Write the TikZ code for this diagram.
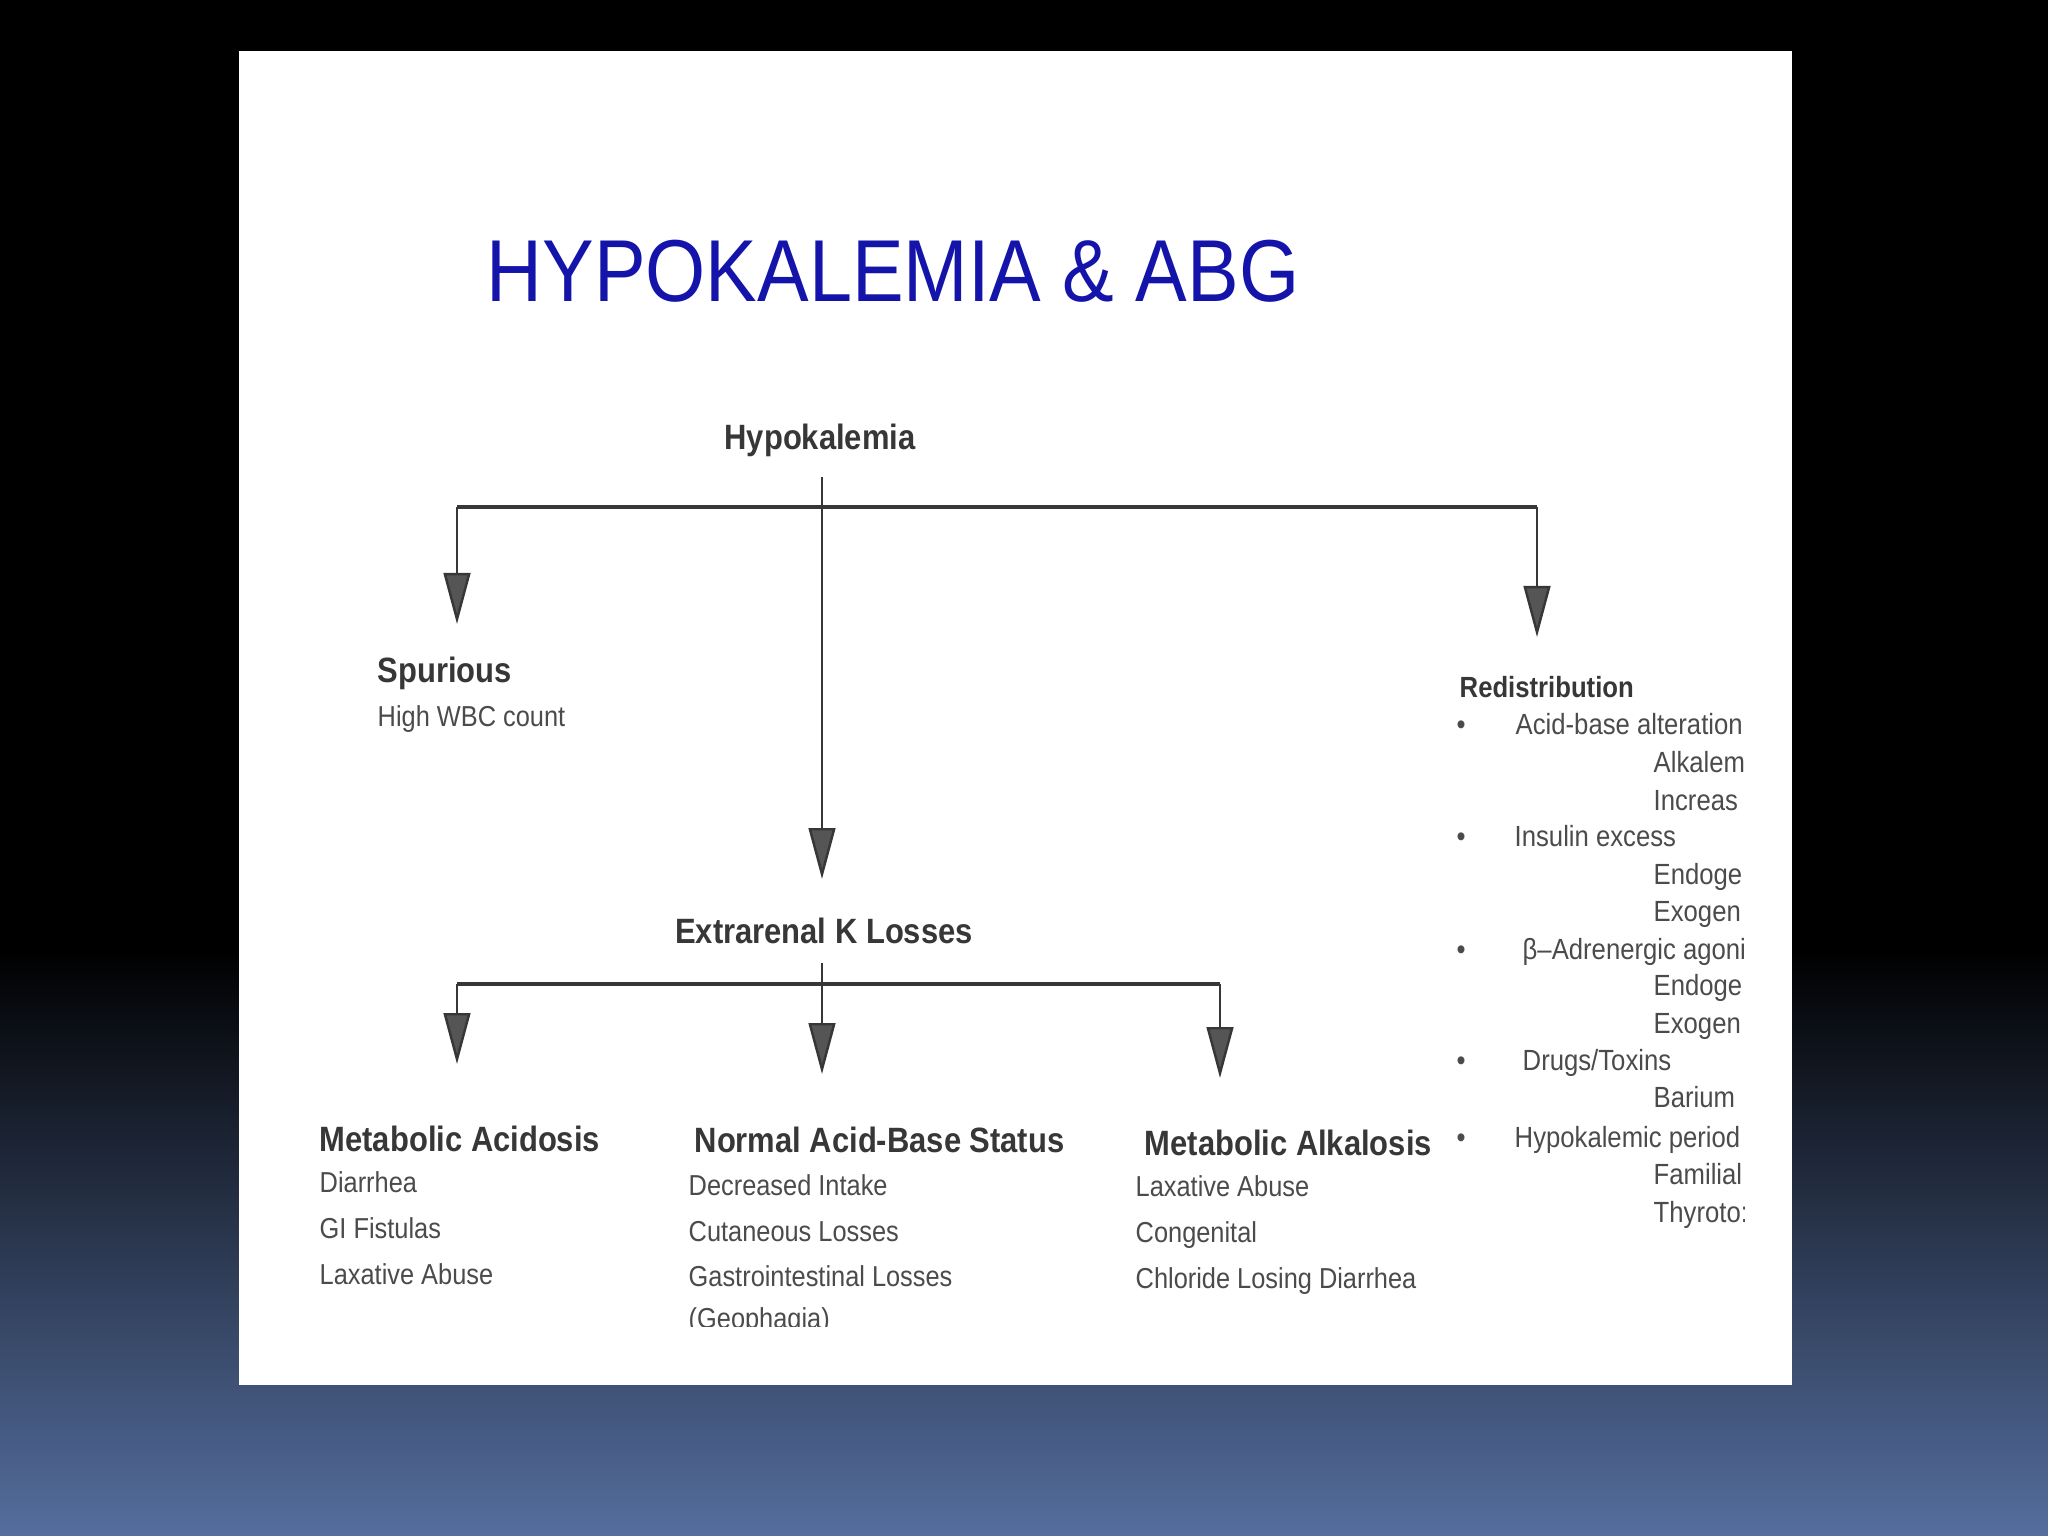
\documentclass[tikz,border=0pt]{standalone}
\usepackage{fontspec}
\setmainfont{Liberation Sans}[FakeStretch=0.88]
\usetikzlibrary{arrows.meta}
\definecolor{slideblue}{RGB}{85, 110, 158}
\definecolor{titleblue}{RGB}{20, 20, 170}
\definecolor{inkgrey}{RGB}{55, 55, 55}

\begin{document}
\begin{tikzpicture}[x=0.01cm, y=0.01cm,
    head/.style={inner sep=0, text=inkgrey, font=\fontsize{10}{12}\selectfont\bfseries},
    item/.style={inner sep=0, anchor=base west, text=inkgrey!90, font=\fontsize{8.2}{10}\selectfont},
    side/.style={inner sep=0, anchor=base west, text=inkgrey!90, font=\fontsize{8.3}{10}\selectfont},
    bar/.style={draw=inkgrey, line width=1.3pt},
    link/.style={draw=inkgrey, line width=0.7pt,
      -{Triangle[length=14.5pt, width=7.6pt, fill=inkgrey!85]}}]

    % slide background
    \useasboundingbox (0,0) rectangle (2048,1536);
    \fill[black] (0,586) rectangle (2048,1536);
    \shade[top color=black, bottom color=slideblue] (0,0) rectangle (2048,586);
    \fill[white] (239,151) rectangle (1792,1485);

    \node[anchor=base, inner sep=0, text=titleblue, font=\fontsize{25}{30}\selectfont]
        (title) at (893,1234) {HYPOKALEMIA \& ABG};

    % first level
    \node[head, anchor=base] (hypo) at (820,1086) {Hypokalemia};
    \node[head, anchor=base] (ext) at (824,592) {Extrarenal K Losses};

    \coordinate (hypo-out) at (822,1059);
    \coordinate (hb-l) at (457,1029);
    \coordinate (hb-r) at (1537,1029);
    \coordinate (spur-in) at (457,912);
    \coordinate (redis-in) at (1537,899);
    \coordinate (ext-in) at (822,657);

    \draw[bar] (hb-l) -- (hb-r);
    \draw[link] (hypo-out) -- (ext-in);
    \draw[link] (hb-l) -- (spur-in);
    \draw[link] (hb-r) -- (redis-in);

    % second level
    \coordinate (ext-out) at (822,573);
    \coordinate (lb-l) at (457,552);
    \coordinate (lb-m) at (822,552);
    \coordinate (lb-r) at (1220,552);
    \coordinate (acid-in) at (457,472);
    \coordinate (norm-in) at (822,462);
    \coordinate (alk-in) at (1220,458);

    \draw[bar] (lb-l) -- (lb-r);
    \draw[inkgrey, line width=0.7pt] (ext-out) -- (lb-m);
    \draw[link] (lb-l) -- (acid-in);
    \draw[link] (lb-m) -- (norm-in);
    \draw[link] (lb-r) -- (alk-in);

    % spurious
    \node[head, anchor=base west] (spur) at (377,853) {Spurious};
    \node[item] (spur1) at (377,809) {High WBC count};

    % metabolic acidosis
    \node[head, anchor=base west] (acid) at (319,384) {Metabolic Acidosis};
    \node[item] (acid1) at (319,343) {Diarrhea};
    \node[item] (acid2) at (319,297) {GI Fistulas};
    \node[item] (acid3) at (319,251) {Laxative Abuse};

    % normal acid-base status
    \node[head, anchor=base west] (norm) at (694,383) {Normal Acid-Base Status};
    \node[item] (norm1) at (688,340) {Decreased Intake};
    \node[item] (norm2) at (688,294) {Cutaneous Losses};
    \node[item] (norm3) at (688,249) {Gastrointestinal Losses};
    \begin{scope}
      \clip (600,209) rectangle (1000,260);
      \node[item] (norm4) at (688,207) {(Geophagia)};
    \end{scope}

    % metabolic alkalosis
    \node[head, anchor=base west] (alk) at (1144,380) {Metabolic Alkalosis};
    \node[item] (alk1) at (1135,339) {Laxative Abuse};
    \node[item] (alk2) at (1135,293) {Congenital};
    \node[item] (alk3) at (1135,247) {Chloride Losing Diarrhea};

    % redistribution (cut off at the right)
    \node[head, anchor=base west, font=\fontsize{8.3}{10}\selectfont\bfseries]
        (redis) at (1459,838) {Redistribution};
    \begin{scope}
      \clip (1440,300) rectangle (1744,830);
      \node[side, anchor=base] (dot1) at (1461,801) {•};
      \node[side] (redis1) at (1515,801) {Acid-base alteration};
      \node[side] (redis1a) at (1653,763) {Alkalem};
      \node[side] (redis1b) at (1653,725) {Increas};
      \node[side, anchor=base] (dot2) at (1461,689) {•};
      \node[side] (redis2) at (1514,689) {Insulin excess};
      \node[side] (redis2a) at (1653,651) {Endoge};
      \node[side] (redis2b) at (1653,614) {Exogen};
      \node[side, anchor=base] (dot3) at (1461,576) {•};
      \node[side] (redis3) at (1522,576) {β–Adrenergic agoni};
      \node[side] (redis3a) at (1653,540) {Endoge};
      \node[side] (redis3b) at (1653,502) {Exogen};
      \node[side, anchor=base] (dot4) at (1461,465) {•};
      \node[side] (redis4) at (1522,465) {Drugs/Toxins};
      \node[side] (redis4a) at (1653,428) {Barium};
      \node[side, anchor=base] (dot5) at (1461,388) {•};
      \node[side] (redis5) at (1514,388) {Hypokalemic period};
      \node[side] (redis5a) at (1653,351) {Familial};
      \node[side] (redis5b) at (1653,313) {Thyroto:};
    \end{scope}

\end{tikzpicture}
\end{document}
